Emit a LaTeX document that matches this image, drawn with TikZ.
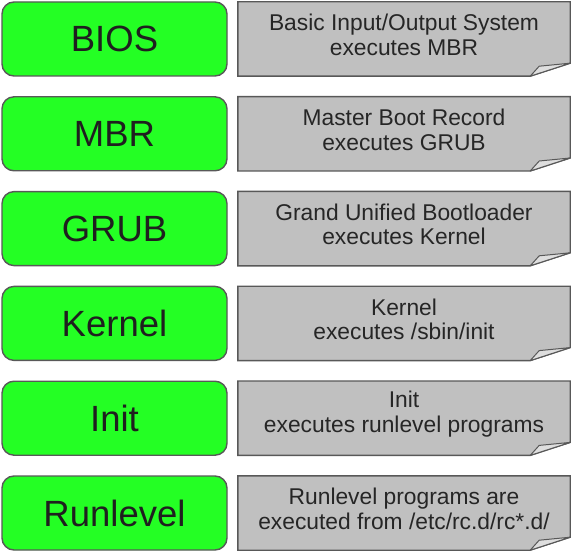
\documentclass[tikz,border=0pt]{standalone}
\usepackage{fontspec}
\setmainfont{Liberation Sans}
\usetikzlibrary{positioning,calc,backgrounds}
\definecolor{stagegreen}{RGB}{36,255,36}
\definecolor{notegrey}{RGB}{192,192,192}
\definecolor{flapgrey}{RGB}{222,222,222}
\definecolor{edgegrey}{RGB}{88,88,88}

\begin{document}
\begin{tikzpicture}[x=1pt,y=-1pt,stage node/.style={rectangle,rounded corners=12pt,draw=edgegrey,line width=1.4pt,fill=stagegreen,minimum width=225pt,minimum height=74pt,inner sep=0pt,font=\fontsize{36.5}{40}\selectfont,text=black!88},desc node/.style={rectangle,minimum width=332pt,minimum height=74pt,inner sep=0pt,align=center,font=\fontsize{22.8}{24.5}\selectfont,text=black!85},note/.style={draw=edgegrey,line width=1.4pt,fill=notegrey},flap/.style={draw=edgegrey,line width=1pt,fill=flapgrey,line join=round},desc text/.style={inner sep=0pt,align=center,font=\fontsize{22.8}{24.5}\selectfont,text=black!85}]
\useasboundingbox (0,0) rectangle (572,553);
\begin{scope}
\node[stage node] (s1) at (114.5,39) {BIOS};
\node[stage node] (s2) at (114.5,133.8) {MBR};
\node[stage node] (s3) at (114.5,228.6) {GRUB};
\node[stage node] (s4) at (114.5,323.4) {Kernel};
\node[stage node] (s5) at (114.5,418.2) {Init};
\node[stage node] (s6) at (114.5,513) {Runlevel};
\end{scope}
\begin{scope}[every node/.append style={}]
\node[desc node] (d1) at (404,39) {};
\node[desc node] (d2) at (404,133.8) {};
\node[desc node] (d3) at (404,228.6) {};
\node[desc node] (d4) at (404,323.4) {};
\node[desc node] (d5) at (404,418.2) {};
\node[desc node] (d6) at (404,513) {};
\node[desc text] (t1) at ($(d1)+(0,-4)$) {Basic Input/Output System\\executes MBR};
\node[desc text] (t2) at ($(d2)+(0,-4)$) {Master Boot Record\\executes GRUB};
\node[desc text] (t3) at ($(d3)+(0,-4)$) {Grand Unified Bootloader\\executes Kernel};
\node[desc text] (t4) at ($(d4)+(0,-4)$) {Kernel\\executes /sbin/init};
\node[desc text] (t5) at ($(d5)+(0,-4)$) {Init\\executes runlevel programs};
\node[desc text] (t6) at ($(d6)+(0,-4)$) {Runlevel programs are\\executed from /etc/rc.d/rc*.d/};
\end{scope}
\begin{pgfonlayer}{background}
\foreach \d in {d1,d2,d3,d4,d5,d6}{
\draw[note] (\d.north west) -- (\d.north east) -- ($(\d.south east)+(0,-13)$) -- ($(\d.south east)+(-40,0)$) -- (\d.south west) -- cycle;
\draw[flap] ($(\d.south east)+(-40,0)$) -- ($(\d.south east)+(-31,-10)$) -- ($(\d.south east)+(0,-13)$) -- cycle;
}
\end{pgfonlayer}
\end{tikzpicture}
\end{document}
